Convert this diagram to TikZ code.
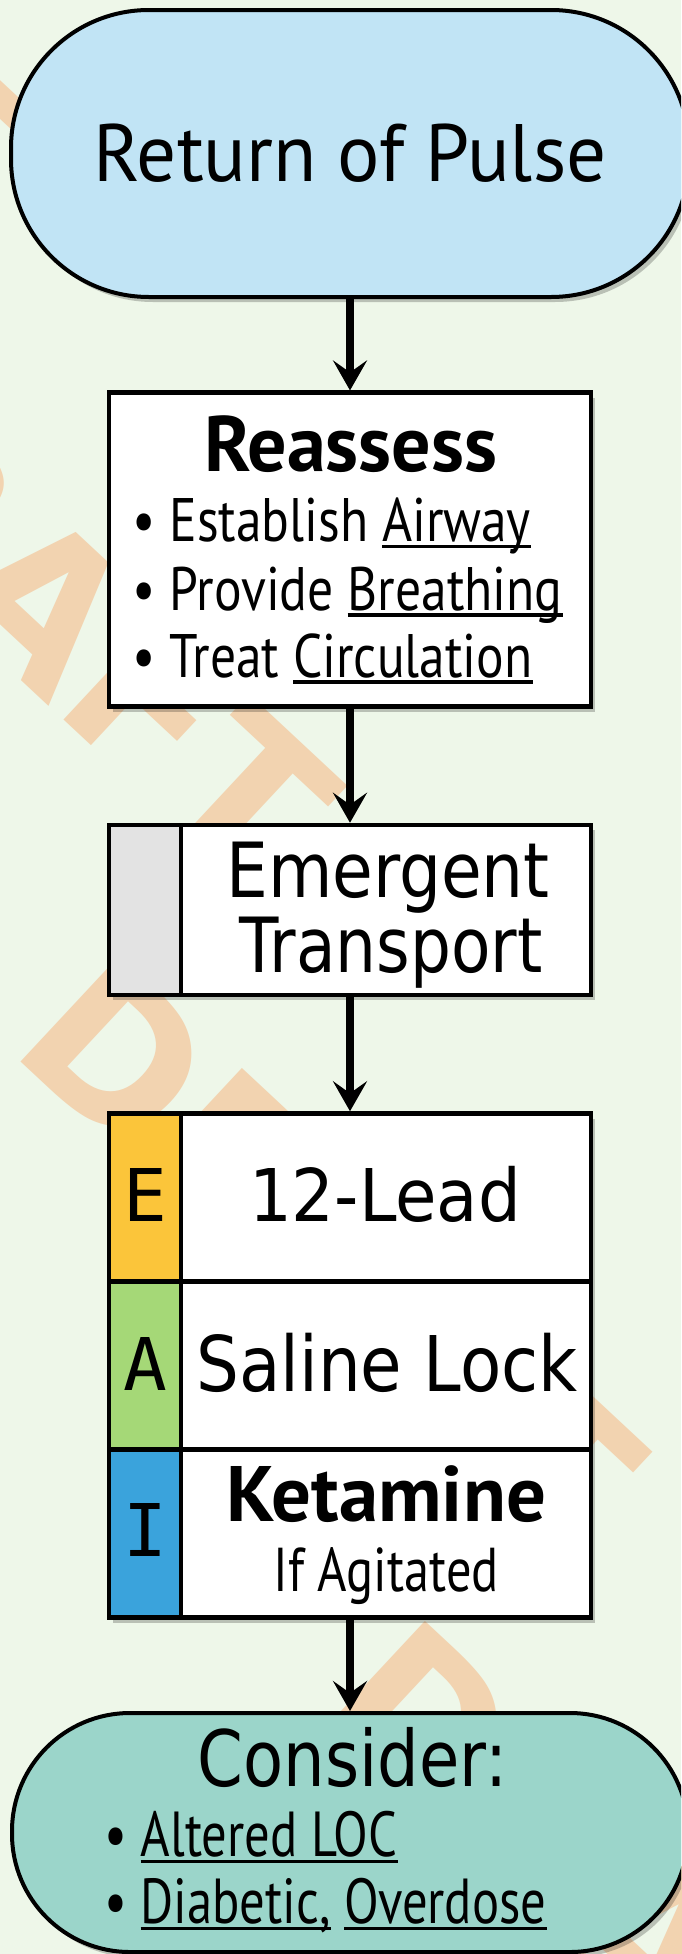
\documentclass[tikz,border=0pt]{standalone}
\usepackage{fontspec}
\usepackage{graphicx}
\setmainfont{PT Sans}
\newfontfamily\widefont{DejaVu Sans}
\newfontfamily\monofont{DejaVu Sans Mono}
\newfontfamily\wmfont{DejaVu Sans}
\usetikzlibrary{arrows.meta,shadows}

\definecolor{bg}{RGB}{238,247,233}
\definecolor{termblue}{RGB}{193,228,245}
\definecolor{termteal}{RGB}{155,213,202}
\definecolor{eyellow}{RGB}{251,197,58}
\definecolor{agreen}{RGB}{165,216,119}
\definecolor{iblue}{RGB}{58,163,220}
\definecolor{stripgray}{RGB}{227,227,227}
\definecolor{wmcol}{RGB}{242,211,176}

\newsavebox\fitbox
\newsavebox\ulbox
\newcommand\fitw[2]{\sbox\fitbox{#2}\pgfmathsetmacro\fitfac{#1/\the\wd\fitbox}\scalebox{\fitfac}[1]{\usebox\fitbox}}
\newcommand\fsz[1]{\fontsize{#1}{#1}\selectfont}
\newcommand\ulw[1]{\sbox\ulbox{#1}\rlap{\rule[-6.6pt]{\wd\ulbox}{3.3pt}}\usebox\ulbox}

\tikzset{
  shadowed/.style={drop shadow={shadow xshift=4pt,shadow yshift=-5pt,opacity=0.22,fill=black}},
  termshape/.style={draw=black,line width=4pt,inner sep=0pt,shadowed},
  boxshape/.style={draw=black,line width=4.5pt,fill=white,inner sep=0pt,minimum width=482pt,shadowed},
  cellshape/.style={draw=black,line width=4.5pt,inner sep=0pt},
  txt/.style={inner sep=0pt,outer sep=0pt},
  flowarrow/.style={line width=8.5pt,-{Stealth[length=30pt,width=34pt,inset=12pt]}},
  wm/.style={text=wmcol,font=\wmfont\bfseries\fsz{200},rotate=-43,inner sep=0pt},
}

\begin{document}
\begin{tikzpicture}[x=1pt,y=-1pt]
\useasboundingbox (0,0) rectangle (681,1954);
\begin{scope}
\clip (0,0) rectangle (681,1954);
\fill[bg] (0,0) rectangle (681,1954);

% watermark
\node[wm] (wm0) at (-279,-81) {DRAFT};
\node[wm] (wm1) at (26,585) {DRAFT};
\node[wm] (wm2) at (331,1251) {DRAFT};
\node[wm] (wm3) at (636,1917) {DRAFT};

% shapes
\node[termshape,fill=termblue,rounded corners=138pt,minimum width=678pt,minimum height=287pt] (ret) at (350,153.5) {};
\node[boxshape,minimum height=314pt] (reass) at (350,549.7) {};
\node[boxshape,minimum height=170pt] (emerg) at (350,910) {};
\node[cellshape,fill=stripgray,minimum width=72pt,minimum height=170pt] (emergL) at (145,910) {};
\node[boxshape,minimum height=504pt] (eai) at (350,1365.5) {};
\node[cellshape,fill=eyellow,minimum width=72pt,minimum height=168pt] (eL) at (145,1197.5) {};
\node[cellshape,fill=white,minimum width=410pt,minimum height=168pt] (eR) at (386,1197.5) {};
\node[cellshape,fill=agreen,minimum width=72pt,minimum height=168pt] (aL) at (145,1365.5) {};
\node[cellshape,fill=white,minimum width=410pt,minimum height=168pt] (aR) at (386,1365.5) {};
\node[cellshape,fill=iblue,minimum width=72pt,minimum height=168pt] (iL) at (145,1533.5) {};
\node[cellshape,fill=white,minimum width=410pt,minimum height=168pt] (iR) at (386,1533.5) {};
\node[termshape,fill=termteal,rounded corners=118pt,minimum width=676pt,minimum height=239pt] (cons) at (350,1832.5) {};

% texts
\node[txt,anchor=base] (tRet) at (350,181.7) {\fitw{513}{\fsz{81.4}Return of Pulse}};
\node[txt,anchor=base] (tReas) at (350.7,471.7) {\fitw{293}{\fsz{78.6}\bfseries Reassess}};
\node[txt,anchor=base west] (tB1) at (132.5,541.7) {\fitw{398.5}{\fsz{61.4}• Establish \ulw{Airway}}};
\node[txt,anchor=base west] (tB2) at (132.5,610) {\fitw{430}{\fsz{61.4}• Provide \ulw{Breathing}}};
\node[txt,anchor=base west] (tB3) at (132.5,677) {\fitw{400}{\fsz{61.4}• Treat \ulw{Circulation}}};

\node[txt,anchor=base] (tEm1) at (388,897.3) {\fitw{323.6}{\widefont\fsz{76.1}Emergent}};
\node[txt,anchor=base] (tEm2) at (391,972.7) {\fitw{302.8}{\widefont\fsz{76.1}Transport}};

\node[txt,anchor=base] (tE) at (145.5,1221) {\monofont\fsz{72.7}E};
\node[txt,anchor=base] (tA) at (145.5,1390) {\monofont\fsz{72.7}A};
\node[txt,anchor=base] (tI) at (145.5,1556) {\monofont\fsz{72.7}I};

\node[txt,anchor=base] (t12) at (385,1221) {\fitw{272}{\widefont\fsz{72.7}12-Lead}};
\node[txt,anchor=base] (tSal) at (387,1391.7) {\fitw{381.4}{\widefont\fsz{76.8}Saline Lock}};
\node[txt,anchor=base] (tKet) at (386.4,1521.7) {\fitw{319.3}{\fsz{78.6}\bfseries Ketamine}};
\node[txt,anchor=base] (tAgi) at (386.2,1591.7) {\fitw{225}{\fsz{61.9}If Agitated}};

\node[txt,anchor=base] (tCon) at (352.5,1786.7) {\fitw{309.7}{\widefont\fsz{77.8}Consider:}};
\node[txt,anchor=base west] (tC1) at (104.3,1856.7) {\fitw{293.2}{\fsz{63.6}• \ulw{Altered LOC}}};
\node[txt,anchor=base west] (tC2) at (104.3,1923.3) {\fitw{442.2}{\fsz{63.6}• \ulw{Diabetic,} \ulw{Overdose}}};

% connectors
\draw[flowarrow] (ret.south) -- (reass.north);
\draw[flowarrow] (reass.south) -- (emerg.north);
\draw[flowarrow] (emerg.south) -- (eai.north);
\draw[flowarrow] (eai.south) -- (cons.north);
\end{scope}
\end{tikzpicture}
\end{document}
